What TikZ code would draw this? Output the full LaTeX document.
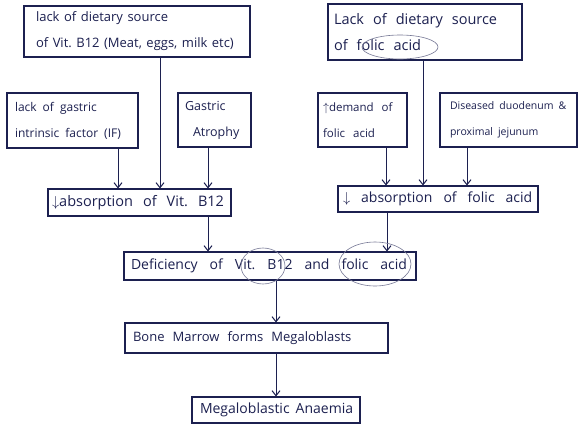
\documentclass[tikz,border=0pt]{standalone}
\usepackage{fontspec}
\setmainfont{Open Sans}
\usetikzlibrary{arrows.meta,calc}
\definecolor{ink}{HTML}{1C2050}
\newcommand\hwf[1]{\fontsize{#1}{26}\selectfont}
\newcommand\wsp[1]{\frenchspacing\spaceskip=#1pt plus 0.5pt minus 0.5pt\relax}
\begin{document}
\begin{tikzpicture}[x=1pt,y=-1pt,
 box/.style={draw=ink, line width=1.1pt, inner xsep=6pt, inner ysep=0pt, align=left, text=ink},
 arr/.style={draw=ink, line width=1pt, -{Straight Barb[length=5pt,width=8pt]}},
 circ/.style={draw=ink!60, line width=0.6pt}]
\useasboundingbox (0,0) rectangle (584,429);
\fill[white] (0,0) rectangle (584,429);
% boxes
\node[box, minimum width=226pt, minimum height=51pt, text width=214pt, inner xsep=6pt, font=\hwf{13}] (A) at (137,31.5) {\wsp{4.5}\mbox{\hspace*{6pt}lack of dietary source}\\\mbox{\hspace*{6pt}of Vit.~B12 (Meat, eggs, milk etc)}};
\node[box, minimum width=131pt, minimum height=55pt, text width=119pt, inner xsep=6pt, font=\hwf{12}] (B) at (72.5,120.5) {\wsp{6}\mbox{\hspace*{2pt}lack of gastric}\\\mbox{\hspace*{2pt}intrinsic factor (IF)}};
\node[box, minimum width=73pt, minimum height=54pt, text width=59pt, inner xsep=7pt, font=\hwf{12.5}] (C) at (214.5,120) {\mbox{Gastric}\\\mbox{\hspace*{8pt}Atrophy}};
\node[box, minimum width=183pt, minimum height=27pt, text width=175pt, inner xsep=4pt, font=\hwf{14.5}] (D) at (139.5,202.5) {\wsp{10}\mbox{$\downarrow$absorption of Vit.~B12}};
\node[box, minimum width=194pt, minimum height=56pt, text width=182pt, font=\hwf{14.5}] (F) at (425,32) {\wsp{9}\mbox{Lack of dietary source}\\\mbox{of folic acid}};
\node[box, minimum width=89pt, minimum height=54pt, text width=79pt, inner xsep=5pt, font=\hwf{11.5}] (G) at (362.5,120) {\wsp{8}\mbox{$\uparrow$demand of}\\\mbox{folic acid}};
\node[box, minimum width=137pt, minimum height=54pt, text width=125pt, inner xsep=6pt, font=\hwf{10.5}] (H) at (508.5,120) {\wsp{5}\mbox{\hspace*{4pt}Diseased duodenum \&}\\\mbox{\hspace*{4pt}proximal jejunum}};
\node[box, minimum width=200pt, minimum height=26pt, text width=190pt, inner xsep=5pt, font=\hwf{14}] (I) at (438,199) {\wsp{11}\mbox{$\downarrow$ absorption of folic acid}};
\node[box, minimum width=292pt, minimum height=28pt, text width=278pt, inner xsep=7pt, font=\hwf{14}] (E) at (270,266) {\wsp{12}\mbox{Deficiency of Vit.~B12 and folic acid}};
\node[box, minimum width=263pt, minimum height=30pt, text width=247pt, inner xsep=8pt, font=\hwf{13}] (J) at (256.5,338) {\wsp{8}\mbox{Bone Marrow forms Megaloblasts}};
\node[box, minimum width=168pt, minimum height=26pt, text width=152pt, inner xsep=8pt, font=\hwf{14}] (K) at (276,410) {\wsp{6}\mbox{Megaloblastic Anaemia}};
% columns
\coordinate (xA) at (160,0);
\coordinate (xB) at (118,0);
\coordinate (xC) at (208,0);
\coordinate (xF) at (423,0);
\coordinate (xG) at (386,0);
\coordinate (xH) at (467,0);
\coordinate (xI) at (387,0);
\coordinate (xE) at (276,0);
% connectors
\draw[arr] (A.south -| xA) -- (D.north -| xA);
\draw[arr] (B.south -| xB) -- (D.north -| xB);
\draw[arr] (C.south -| xC) -- (D.north -| xC);
\draw[arr] (D.south -| xC) -- (E.north -| xC);
\draw[arr] (F.south -| xF) -- (I.north -| xF);
\draw[arr] (G.south -| xG) -- (I.north -| xG);
\draw[arr] (H.south -| xH) -- (I.north -| xH);
\draw[arr] (I.south -| xI) -- (E.north -| xI);
\draw[arr] (E.south -| xE) -- (J.north -| xE);
\draw[arr] (J.south -| xE) -- (K.north -| xE);
% hand-drawn circles
\draw[circ] (400,47) ellipse (38pt and 12pt);
\draw[circ] (263,266) ellipse (22pt and 18pt);
\draw[circ] (375,264) ellipse (36pt and 22pt);
\end{tikzpicture}
\end{document}
